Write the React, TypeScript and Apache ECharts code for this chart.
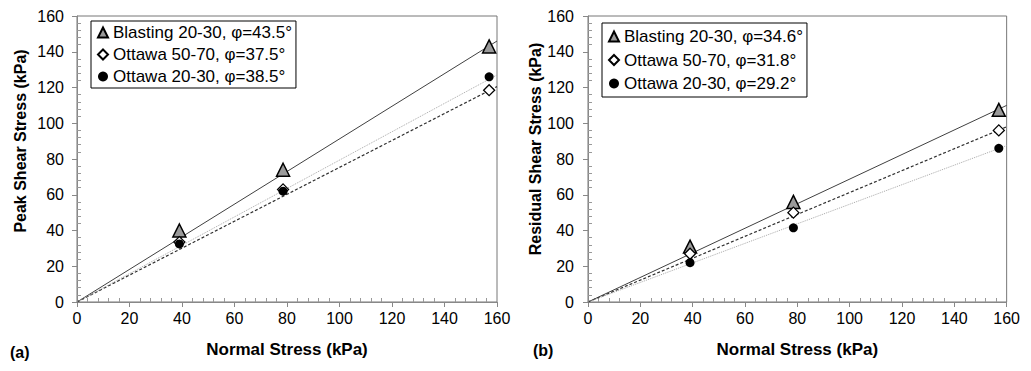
import React, { useEffect, useRef } from "react";
import * as echarts from "echarts";

// Normal stress values (kPa) of the three test points
const normalStress = [39, 78.5, 157];

// (a) Peak shear stress (kPa)
const peakNames = [
  "Blasting 20-30, φ=43.5°",
  "Ottawa 50-70, φ=37.5°",
  "Ottawa 20-30, φ=38.5°",
];
const peakBlasting = [40, 74, 143];
const peakOttawa5070 = [33.5, 63, 118.5];
const peakOttawa2030 = [32.5, 62, 126];
// fitted lines (through origin) values at normal stress = 160
const peakFitAt160 = [146, 120.5, 127];

// (b) Residual shear stress (kPa)
const resNames = [
  "Blasting 20-30, φ=34.6°",
  "Ottawa 50-70, φ=31.8°",
  "Ottawa 20-30, φ=29.2°",
];
const resBlasting = [31, 56, 107.5];
const resOttawa5070 = [27, 50, 96];
const resOttawa2030 = [22, 41.5, 86];
const resFitAt160 = [110, 98, 87.5];

const xTicks = { min: 0, max: 160, interval: 20 };
const yTicks = { min: 0, max: 160, interval: 20 };

const FONT = "'Liberation Sans', Arial, sans-serif";

const markerStyles = [
  { symbol: "triangle", symbolSize: 13, itemStyle: { color: "#9a9a9a", borderColor: "#000", borderWidth: 1.5, opacity: 1 } },
  { symbol: "diamond", symbolSize: 11, itemStyle: { color: "#ffffff", borderColor: "#000", borderWidth: 1.3, opacity: 1 } },
  { symbol: "circle", symbolSize: 9, itemStyle: { color: "#000", borderColor: "#000", borderWidth: 0, opacity: 1 } },
];
const lineStyles = [
  { color: "#404040", width: 1, type: "solid" as const },
  { color: "#303030", width: 1.2, type: [3, 2] },
  { color: "#a8a8a8", width: 1, type: [1, 1] },
];

function pts(ys: number[]) {
  return normalStress.map((x, i) => [x, ys[i]]);
}

function makeSeries(names: string[], sets: number[][], fits: number[], idx: number) {
  const out: any[] = [];
  fits.forEach((end, i) => {
    out.push({
      type: "line",
      xAxisIndex: idx,
      yAxisIndex: idx,
      data: [[0, 0], [160, end]],
      symbol: "none",
      silent: true,
      lineStyle: lineStyles[i],
      z: 2,
    });
  });
  names.forEach((n, i) => {
    out.push({
      type: "scatter",
      name: n,
      xAxisIndex: idx,
      yAxisIndex: idx,
      data: pts(sets[i]),
      symbol: markerStyles[i].symbol,
      symbolSize: markerStyles[i].symbolSize,
      itemStyle: markerStyles[i].itemStyle,
      z: 3 + i,
    });
  });
  return out;
}

function xAxis(idx: number) {
  return {
    type: "value",
    gridIndex: idx,
    ...xTicks,
    name: "Normal Stress (kPa)",
    nameLocation: "middle",
    nameGap: 39,
    nameTextStyle: { fontFamily: FONT, fontSize: 17, fontWeight: "bold", color: "#000" },
    axisLine: { show: true, lineStyle: { color: "#888", width: 1 } },
    axisTick: { show: true, length: 5, lineStyle: { color: "#888" } },
    minorTick: { show: true, splitNumber: 5, length: -4, lineStyle: { color: "#999" } },
    splitLine: { show: false },
    axisLabel: { fontFamily: FONT, fontSize: 16, color: "#000", margin: 8 },
  };
}

function yAxis(idx: number, name: string, gap: number, pad: number, margin: number) {
  return {
    type: "value",
    gridIndex: idx,
    ...yTicks,
    name,
    nameLocation: "middle",
    nameGap: gap,
    nameTextStyle: { fontFamily: FONT, fontSize: 16, fontWeight: "bold", color: "#000", padding: [0, 0, 0, pad] },
    axisLine: { show: true, lineStyle: { color: "#888", width: 1 } },
    axisTick: { show: true, length: 5, lineStyle: { color: "#888" } },
    minorTick: { show: true, splitNumber: 5, length: -4, lineStyle: { color: "#999" } },
    splitLine: { show: false },
    axisLabel: { fontFamily: FONT, fontSize: 16, color: "#000", margin },
  };
}

function legend(names: string[], left: number, top: number, gap: number, padding: number[]) {
  return {
    data: names,
    orient: "vertical",
    left,
    top,
    itemGap: gap,
    itemWidth: 10,
    itemHeight: 10,
    padding,
    borderColor: "#000",
    borderWidth: 1,
    backgroundColor: "#fff",
    selectedMode: false,
    textStyle: { fontFamily: FONT, fontSize: 17, color: "#000", padding: [0, 0, 0, 0] },
  };
}

export default function App() {
  const ref = useRef<HTMLDivElement>(null);
  useEffect(() => {
    if (!ref.current) return;
    const chart = echarts.init(ref.current, undefined, { renderer: "svg" });
    chart.setOption({
      animation: false,
      backgroundColor: "#fff",
      grid: [
        { left: 69, top: 5, width: 420, height: 297, show: true, borderColor: "#777", borderWidth: 1, backgroundColor: "transparent" },
        { left: 580, top: 6, width: 425, height: 297, show: true, borderColor: "#777", borderWidth: 1, backgroundColor: "transparent" },
      ],
      xAxis: [xAxis(0), xAxis(1)],
      yAxis: [
        yAxis(0, "Peak Shear Stress (kPa)", 49, 36, 13),
        yAxis(1, "Residual Shear Stress (kPa)", 42, 20, 14),
      ],
      legend: [
        legend(peakNames, 83, 13, 5, [3, 4, 3, 6]),
        legend(resNames, 594, 15, 6.5, [5, 4, 5, 6]),
      ],
      graphic: [
        { type: "text", left: 2, top: 336, style: { text: "(a)", font: `bold 16px ${FONT}`, fill: "#000" } },
        { type: "text", left: 525, top: 334, style: { text: "(b)", font: `bold 16px ${FONT}`, fill: "#000" } },
      ],
      series: [
        ...makeSeries(peakNames, [peakBlasting, peakOttawa5070, peakOttawa2030], peakFitAt160, 0),
        ...makeSeries(resNames, [resBlasting, resOttawa5070, resOttawa2030], resFitAt160, 1),
      ],
    });
    return () => chart.dispose();
  }, []);
  return <div ref={ref} style={{ width: 1015, height: 355 }} />;
}
